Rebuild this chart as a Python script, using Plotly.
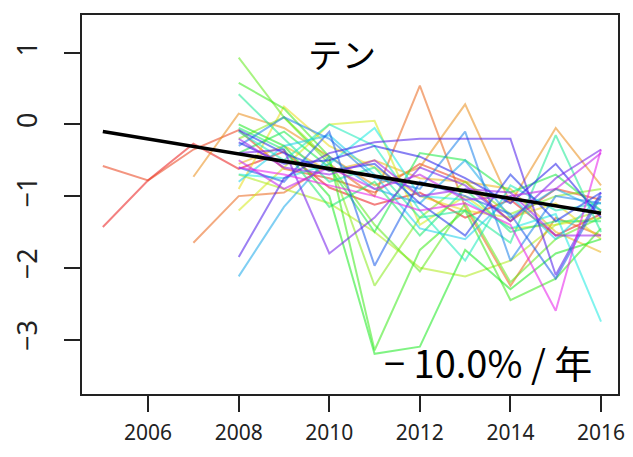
import plotly.graph_objects as go
import colorsys

years = [2005, 2006, 2007, 2008, 2009, 2010, 2011, 2012, 2013, 2014, 2015, 2016]
N = None
series = [
    [-1.43, -0.78, -0.27, -0.62, -0.38, -0.88, -1.12, -0.95, -1.30, -1.05, -1.55, -1.25],
    [-0.58, -0.78, -0.35, -0.08, -0.62, -0.75, -0.95, -0.55, -0.80, -1.35, -0.90, -1.05],
    [N, N, -1.65, -1.00, -0.95, -0.55, -1.00, 0.54, -1.15, -2.25, -1.30, -1.55],
    [N, N, -0.73, 0.15, -0.05, -0.45, -0.85, -0.60, 0.28, -1.10, -0.05, -0.85],
    [N, N, N, -0.55, -0.30, -0.65, -0.50, -0.75, -0.80, -0.90, -1.50, -1.78],
    [N, N, N, -0.90, 0.25, -0.30, -0.60, -1.00, -1.20, -1.30, -1.10, -1.60],
    [N, N, N, -1.20, -0.60, 0.00, 0.05, -1.40, -1.00, -1.45, -1.40, -1.30],
    [N, N, N, -0.70, -0.90, -1.10, -1.50, -2.00, -2.12, -1.90, -1.40, -1.20],
    [N, N, N, -0.20, 0.10, -0.50, -2.25, -1.30, -0.80, -1.25, -1.00, -0.90],
    [N, N, N, 0.93, 0.10, -0.55, -1.40, -2.05, -1.10, -2.20, -1.60, -1.30],
    [N, N, N, 0.58, 0.22, -0.45, -3.15, -1.75, -1.20, -2.45, -2.15, -1.45],
    [N, N, N, 0.00, -0.30, -1.00, -3.20, -3.10, -1.75, -2.30, -1.80, -1.60],
    [N, N, N, -0.40, -0.10, -0.60, -1.50, -0.40, -0.50, -0.95, -0.70, -1.20],
    [N, N, N, -0.05, -0.35, -1.15, -0.80, -1.55, -0.90, -1.50, -1.35, -1.35],
    [N, N, N, 0.42, -0.20, -0.80, -0.60, -1.30, -1.20, -1.65, -0.15, -1.50],
    [N, N, N, -0.10, -0.50, 0.00, -0.30, -1.20, -1.90, -0.85, -1.20, -1.10],
    [N, N, N, -0.70, -0.75, -0.55, -0.05, -1.00, -1.05, -1.45, -1.25, -2.75],
    [N, N, N, -0.80, -0.30, -0.15, -0.70, -1.45, -1.60, -1.00, -1.60, -1.00],
    [N, N, N, -2.12, -1.15, -0.45, -0.90, -1.10, -0.50, -1.30, -0.90, -1.20],
    [N, N, N, -0.30, 0.10, -0.20, -0.75, -0.90, -0.10, -1.90, -1.00, -1.10],
    [N, N, N, -0.60, -0.80, -0.10, -1.97, -0.80, -1.00, -1.25, -2.15, -1.00],
    [N, N, N, -0.08, -0.40, -0.65, -0.55, -1.10, -1.55, -0.70, -1.35, -0.95],
    [N, N, N, -0.25, -0.55, -0.50, -0.30, -0.45, -0.75, -1.10, -0.55, -1.30],
    [N, N, N, -1.85, -0.75, -0.40, -0.25, -0.20, -0.20, -0.20, -2.10, -0.95],
    [N, N, N, -0.40, -0.35, -1.80, -1.30, -0.60, -0.85, -1.35, -0.75, -0.35],
    [N, N, N, -0.20, -0.60, -0.70, -0.50, -1.00, -0.90, -0.95, -1.55, -1.55],
    [N, N, N, -0.50, -0.90, -0.60, -0.90, -0.70, -1.05, -1.00, -0.90, -0.40],
    [N, N, N, -0.60, -0.70, -0.85, -1.00, -1.20, -1.10, -1.40, -2.60, -0.35],
]
trend_years = [2005, 2016]
trend_values = [-0.10, -1.24]
x_ticks = [2006, 2008, 2010, 2012, 2014, 2016]
y_ticks = [-3, -2, -1, 0, 1]
title_text = "テン"
rate_text = "\u2212 10.0% / 年"

fig = go.Figure()
n = len(series)
for i, vals in enumerate(series):
    h = 0.83 * i / (n - 1)
    r, g, b = colorsys.hsv_to_rgb(h, 0.9, 0.92)
    col = f"rgba({int(r*255)},{int(g*255)},{int(b*255)},0.55)"
    fig.add_trace(go.Scatter(x=years, y=vals, mode="lines",
                             line=dict(color=col, width=2),
                             connectgaps=False, showlegend=False, hoverinfo="skip"))

fig.add_trace(go.Scatter(x=trend_years, y=trend_values, mode="lines",
                         line=dict(color="black", width=3.5), showlegend=False))

axis_common = dict(ticks="outside", ticklen=16, tickwidth=2, tickcolor="#222",
                   showgrid=False, zeroline=False, showline=True, linecolor="#222",
                   linewidth=2, mirror=True, automargin=False)

# the page body adds an 8 px offset; the figure is sized so that it fits the
# window without scrollbars, and the margins put the plot box where it belongs
fig.update_layout(
    width=624, height=441,
    margin=dict(l=74, r=14, t=7, b=55),
    paper_bgcolor="white", plot_bgcolor="white",
    xaxis=dict(range=[2004.54, 2016.375], tickvals=x_ticks,
               ticklabelstandoff=3, ticklabeloverflow="allow",
               tickfont=dict(size=21, family="Noto Sans, Open Sans, sans-serif", color="#222"),
               **axis_common),
    yaxis=dict(range=[-3.76, 1.526], tickvals=y_ticks, tickangle=-90,
               ticklabelstandoff=16,
               tickfont=dict(size=27, family="Noto Sans, Open Sans, sans-serif", color="#222"),
               **axis_common),
    annotations=[
        dict(text=title_text, xref="paper", yref="paper", x=0.485, y=0.899,
             showarrow=False, font=dict(size=34, family="Noto Sans CJK JP", color="black"),
             xanchor="center", yanchor="middle"),
        dict(text=rate_text, xref="paper", yref="paper", x=0.955, y=0.085,
             showarrow=False, font=dict(size=38, family="Noto Sans CJK JP", color="black"),
             xanchor="right", yanchor="middle"),
    ],
)

fig.write_html("out.html")
